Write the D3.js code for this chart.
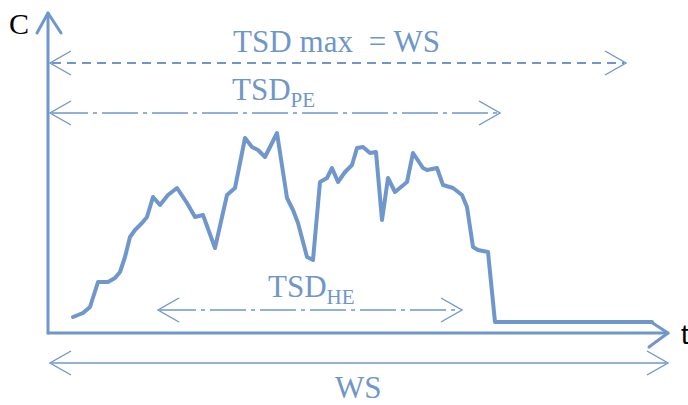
<!DOCTYPE html>
<html>
<head>
<meta charset="utf-8">
<script src="https://cdn.jsdelivr.net/npm/d3@7"></script>
<style>
  html, body { margin: 0; padding: 0; background: #fff; }
  svg { display: block; }
</style>
</head>
<body>
<svg id="chart" width="688" height="405"></svg>
<script>
// ---- data (time units, concentration units) ----
const timeValues = [25,35,42,50,60,67,72,77,82,87,94,99,105,112,120,129,139,147,155,167,179,187,197,204,210,217,229,239,245,250,259,265,272,279,284,290,297,304,309,315,322,328,334,340,347,359,365,375,379,389,395,405,414,419,425,430,440,447,604];
const concValues = [16,20,26,51,51,55,61,76,96,103,110,116,136,128,138,145,130,116,118,85,138,145,195,186,183,176,200,135,123,110,76,73,151,155,165,151,161,168,185,186,180,181,113,155,141,151,180,165,163,165,148,145,138,126,86,83,81,11,11];

// annotation spans: [label, subscript, tStart, tEnd, level, style]
const spanLabels  = ["TSD max  = WS", "TSD", "TSD", "WS"];
const spanSubs    = ["", "PE", "HE", ""];
const spanStarts  = [2, 2, 110, 2];
const spanEnds    = [578, 452, 414, 620];
const spanLevels  = [270, 220, 23, -30];
const spanStyles  = ["dash", "dashdot", "dashdot", "solid"];
const axisLabels  = ["C", "t"];

const svg = d3.select("#chart");
const color = "#6f97cc";
const textColor = "#6f96c9";

const x = d3.scaleLinear().domain([0, 620]).range([48, 668]);
const y = d3.scaleLinear().domain([0, 320]).range([333, 13]);

// axes
const axisG = svg.append("g").attr("stroke", color).attr("fill", "none")
  .attr("stroke-width", 3).attr("stroke-linecap", "round").attr("stroke-linejoin", "round");
axisG.append("line").attr("x1", x(0)).attr("y1", y(0)).attr("x2", x(0)).attr("y2", y(320));
axisG.append("line").attr("x1", x(0)).attr("y1", y(0)).attr("x2", x(620)).attr("y2", y(0));
axisG.append("path").attr("d", `M${x(0)-11},${y(320)+20} L${x(0)},${y(320)} L${x(0)+13},${y(320)+20}`);
axisG.append("path").attr("d", `M${x(620)-17},${y(0)-11} L${x(620)},${y(0)} L${x(620)-19},${y(0)+14}`);

// data line
const pts = timeValues.map((t, i) => [t, concValues[i]]);
svg.append("path")
  .datum(pts)
  .attr("fill", "none")
  .attr("stroke", color)
  .attr("stroke-width", 4)
  .attr("stroke-linejoin", "round")
  .attr("stroke-linecap", "round")
  .attr("d", d3.line().x(d => x(d[0])).y(d => y(d[1])).curve(d3.curveLinear));

// spans
const dashMap = { dash: "9,6", dashdot: "36,5,4,5", solid: null };
const widthMap = { dash: 2, dashdot: 1.6, solid: 1.4 };
spanLabels.forEach((lab, i) => {
  const x1 = x(spanStarts[i]), x2 = x(spanEnds[i]), yy = y(spanLevels[i]);
  const g = svg.append("g").attr("stroke", color).attr("fill", "none")
    .attr("stroke-width", widthMap[spanStyles[i]]);
  g.append("line").attr("x1", x1 + 2).attr("y1", yy).attr("x2", x2 - 2).attr("y2", yy)
    .attr("stroke-dasharray", dashMap[spanStyles[i]]);
  g.append("path").attr("stroke-width", 1.4)
    .attr("d", `M${x1+21},${yy-12} L${x1},${yy} L${x1+21},${yy+12}`);
  g.append("path").attr("stroke-width", 1.4)
    .attr("d", `M${x2-21},${yy-12} L${x2},${yy} L${x2-21},${yy+12}`);
});

// span labels
const labelPos = [[233, 52, 207], [232, 100, null], [268, 297, null], [335, 398, null]];
spanLabels.forEach((lab, i) => {
  const t = svg.append("text")
    .attr("x", labelPos[i][0]).attr("y", labelPos[i][1])
    .attr("font-family", "'Liberation Serif', 'DejaVu Serif', serif")
    .attr("font-size", 31)
    .attr("fill", textColor)
    .attr("xml:space", "preserve")
    .style("white-space", "pre");
  t.append("tspan").text(lab);
  if (spanSubs[i]) {
    t.append("tspan").attr("font-size", 21).attr("dy", 7).text(spanSubs[i]);
  }
  if (labelPos[i][2]) t.attr("textLength", labelPos[i][2]).attr("lengthAdjust", "spacing");
});

// axis labels
svg.append("text").attr("x", 9).attr("y", 34)
  .attr("font-family", "'Liberation Serif', serif").attr("font-size", 30)
  .attr("fill", "#000").text(axisLabels[0]);
svg.append("text").attr("x", 681).attr("y", 344)
  .attr("font-family", "'Liberation Sans', 'Open Sans', sans-serif").attr("font-size", 28)
  .attr("fill", "#000").text(axisLabels[1]);
</script>
</body>
</html>
